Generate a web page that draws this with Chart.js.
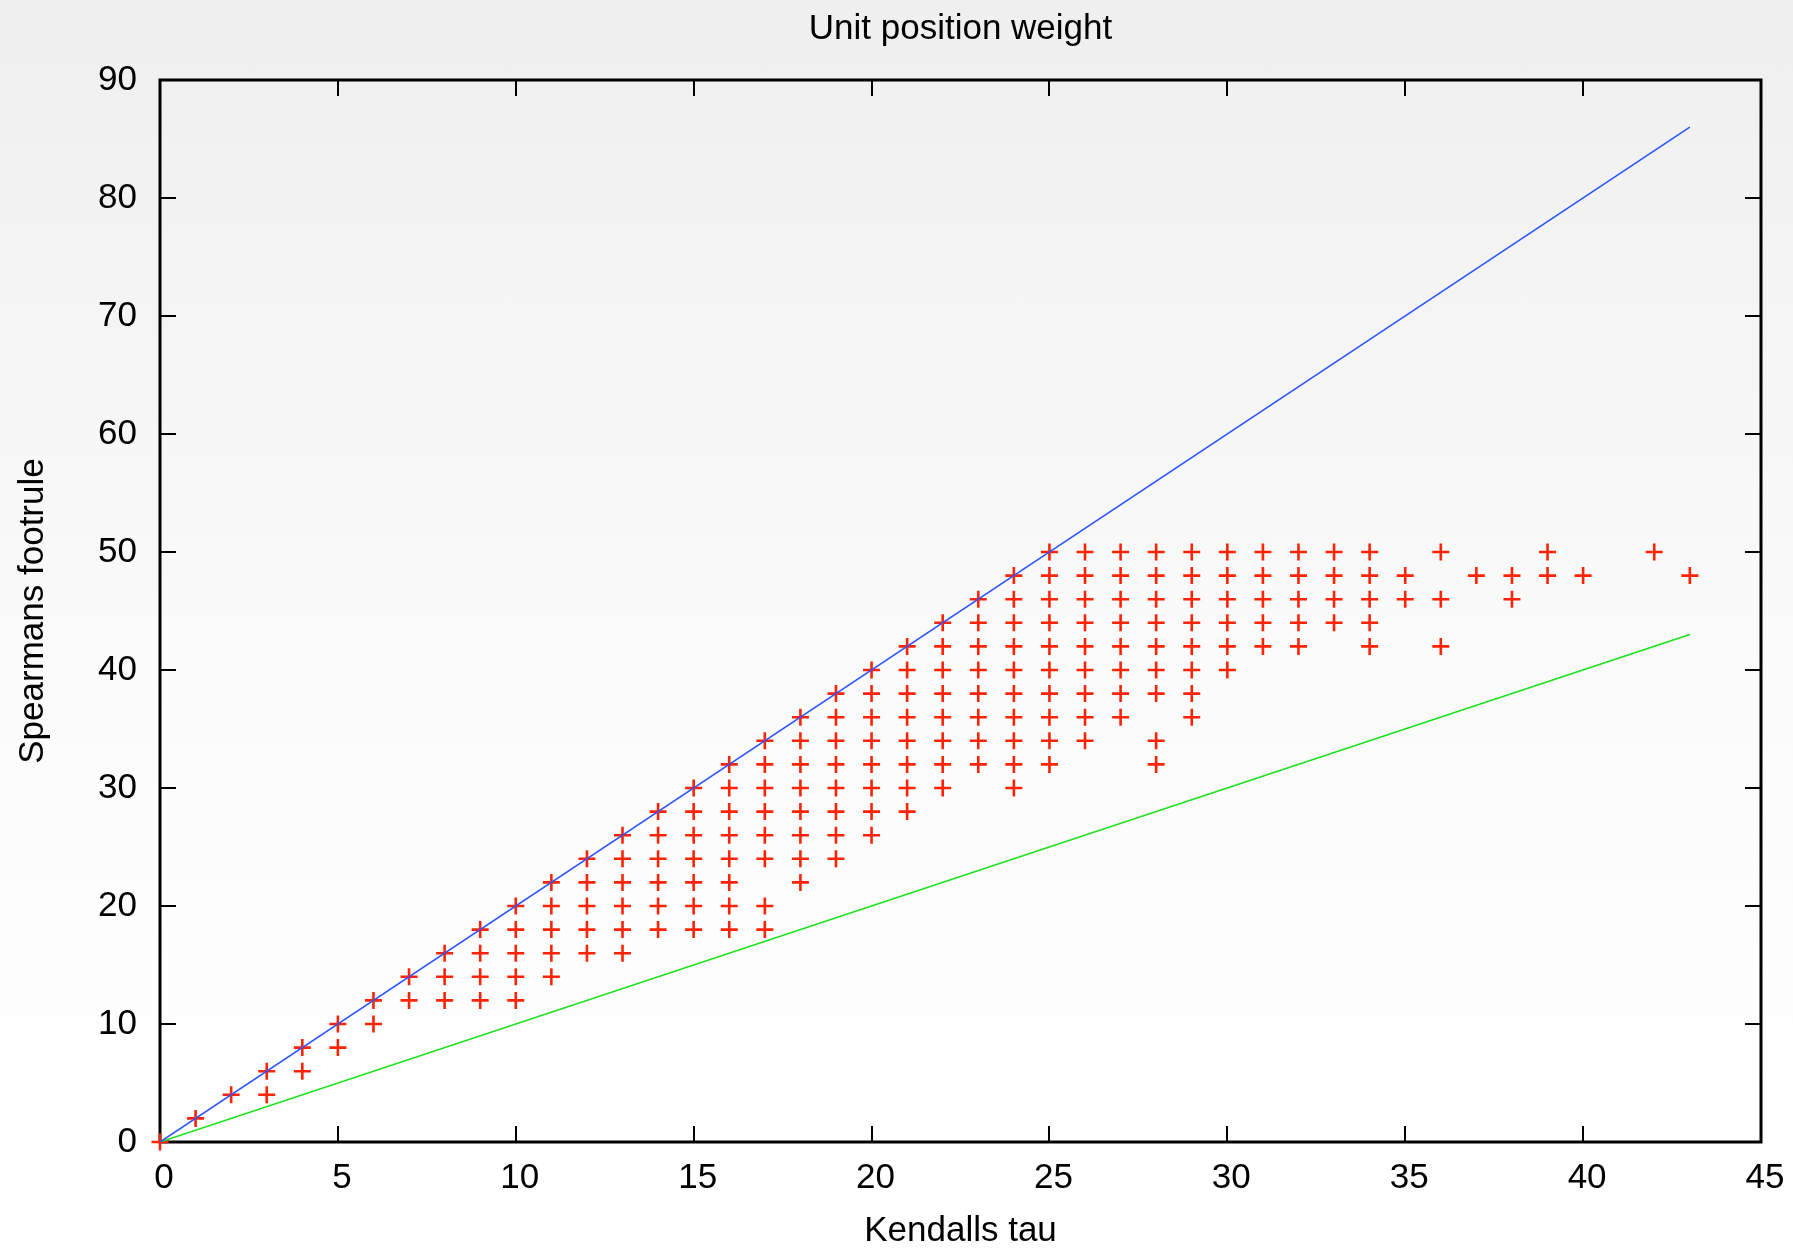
<!DOCTYPE html>
<html>
<head>
<meta charset="utf-8">
<script src="https://cdn.jsdelivr.net/npm/chart.js@4.4.1/dist/chart.umd.min.js"></script>
<style>
  html, body { margin: 0; padding: 0; }
  body { width: 1793px; height: 1251px; background: linear-gradient(to bottom, #efefef 0%, #fafafa 50%, #ffffff 90%); overflow: hidden; }
  #wrap { position: relative; width: 1793px; height: 1251px; }
</style>
</head>
<body>
<div id="wrap"><canvas id="c" width="1793" height="1251"></canvas></div>
<script>
// ---- Data ----
const chartTitle = 'Unit position weight';
const xTitle = 'Kendalls tau';
const yTitle = 'Spearmans footrule';

// Kendall tau values (x) that carry points
const tauColumns = [0,1,2,3,4,5,6,7,8,9,10,11,12,13,14,15,16,17,18,19,20,21,22,23,24,25,26,27,28,29,30,31,32,33,34,35,36,37,38,39,40,42,43];
// Spearman footrule values (y) found at each tau column
const footruleColumns = [
  [0],
  [2],
  [4],
  [6,4],
  [8,6],
  [10,8],
  [12,10],
  [14,12],
  [16,14,12],
  [18,16,14,12],
  [20,18,16,14,12],
  [22,20,18,16,14],
  [24,22,20,18,16],
  [26,24,22,20,18,16],
  [28,26,24,22,20,18],
  [30,28,26,24,22,20,18],
  [32,30,28,26,24,22,20,18],
  [34,32,30,28,26,24,20,18],
  [36,34,32,30,28,26,24,22],
  [38,36,34,32,30,28,26,24],
  [40,38,36,34,32,30,28,26],
  [42,40,38,36,34,32,30,28],
  [44,42,40,38,36,34,32,30],
  [46,44,42,40,38,36,34,32],
  [48,46,44,42,40,38,36,34,32,30],
  [50,48,46,44,42,40,38,36,34,32],
  [50,48,46,44,42,40,38,36,34],
  [50,48,46,44,42,40,38,36],
  [50,48,46,44,42,40,38,34,32],
  [50,48,46,44,42,40,38,36],
  [50,48,46,44,42,40],
  [50,48,46,44,42],
  [50,48,46,44,42],
  [50,48,46,44],
  [50,48,46,44,42],
  [48,46],
  [50,46,42],
  [48],
  [48,46],
  [50,48],
  [48],
  [50],
  [48]
];

// Reference lines (endpoints)
const lineTau = [0, 43];
const upperLine = [0, 86];   // blue
const lowerLine = [0, 43];   // green

// Axis ranges / ticks
const xMin = 0, xMax = 45, xStep = 5;
const yMin = 0, yMax = 90, yStep = 10;

// ---- Build library data ----
const scatterPoints = [];
tauColumns.forEach((t, i) => footruleColumns[i].forEach(f => scatterPoints.push({x: t, y: f})));
const bluePts = lineTau.map((t, i) => ({x: t, y: upperLine[i]}));
const greenPts = lineTau.map((t, i) => ({x: t, y: lowerLine[i]}));

const FONT = "'Liberation Sans', Arial, Helvetica, sans-serif";
const FS = 35;

const framePlugin = {
  id: 'frame',
  beforeDatasetsDraw(chart) {
    const {ctx, chartArea: a, scales} = chart;
    const xs = scales.x, ys = scales.y;
    const tl = 16;
    ctx.save();
    ctx.strokeStyle = '#000';
    ctx.lineWidth = 2;
    ctx.beginPath();
    xs.ticks.forEach(t => {
      if (t.value > xs.min && t.value < xs.max) {
        const px = Math.round(xs.getPixelForValue(t.value));
        ctx.moveTo(px, a.bottom); ctx.lineTo(px, a.bottom - tl);
        ctx.moveTo(px, a.top); ctx.lineTo(px, a.top + tl);
      }
    });
    ys.ticks.forEach(t => {
      if (t.value > ys.min && t.value < ys.max) {
        const py = Math.round(ys.getPixelForValue(t.value));
        ctx.moveTo(a.left, py); ctx.lineTo(a.left + tl, py);
        ctx.moveTo(a.right, py); ctx.lineTo(a.right - tl, py);
      }
    });
    ctx.stroke();
    ctx.lineWidth = 3;
    ctx.strokeRect(a.left, a.top, a.right - a.left, a.bottom - a.top);
    ctx.restore();
  }
};

new Chart(document.getElementById('c'), {
  type: 'scatter',
  data: {
    datasets: [
      {
        label: 'upper',
        data: bluePts,
        showLine: true,
        borderColor: 'rgb(45,85,255)',
        borderWidth: 1.6,
        pointRadius: 0,
        order: 0
      },
      {
        label: 'lower',
        data: greenPts,
        showLine: true,
        borderColor: 'rgb(25,225,25)',
        borderWidth: 1.6,
        pointRadius: 0,
        order: 1
      },
      {
        label: 'points',
        data: scatterPoints,
        pointStyle: 'cross',
        pointRadius: 8.5,
        pointBorderWidth: 2.6,
        borderColor: 'rgb(255,35,5)',
        backgroundColor: 'rgb(255,35,5)',
        clip: false,
        order: 2
      }
    ]
  },
  options: {
    responsive: false,
    animation: false,
    events: [],
    layout: { padding: { left: 0, right: 32, top: 0, bottom: 0 } },
    plugins: {
      legend: { display: false },
      tooltip: { enabled: false },
      title: {
        display: true,
        text: chartTitle,
        fullSize: false,
        color: '#000',
        font: { family: FONT, size: FS, weight: 'normal' },
        padding: { top: 8, bottom: 30 }
      }
    },
    scales: {
      x: {
        type: 'linear',
        min: xMin, max: xMax,
        afterFit(s) { s.height = 109; s.paddingLeft = 0; s.paddingRight = 0; },
        grid: { display: false, drawTicks: false },
        border: { display: false },
        ticks: { stepSize: xStep, color: '#000', padding: 15, labelOffset: 4, maxRotation: 0,
                 font: { family: FONT, size: FS } },
        title: { display: true, text: xTitle, color: '#000', padding: { top: 0, bottom: -1 },
                 font: { family: FONT, size: FS } }
      },
      y: {
        type: 'linear',
        min: yMin, max: yMax,
        afterFit(s) { s.width = 160; s.paddingTop = 0; s.paddingBottom = 0; },
        grid: { display: false, drawTicks: false },
        border: { display: false },
        ticks: { stepSize: yStep, color: '#000', padding: 23,
                 font: { family: FONT, size: FS } },
        title: { display: true, text: yTitle, color: '#000', padding: { top: 12, bottom: 0 },
                 font: { family: FONT, size: FS } }
      }
    }
  },
  plugins: [framePlugin]
});
</script>
</body>
</html>
